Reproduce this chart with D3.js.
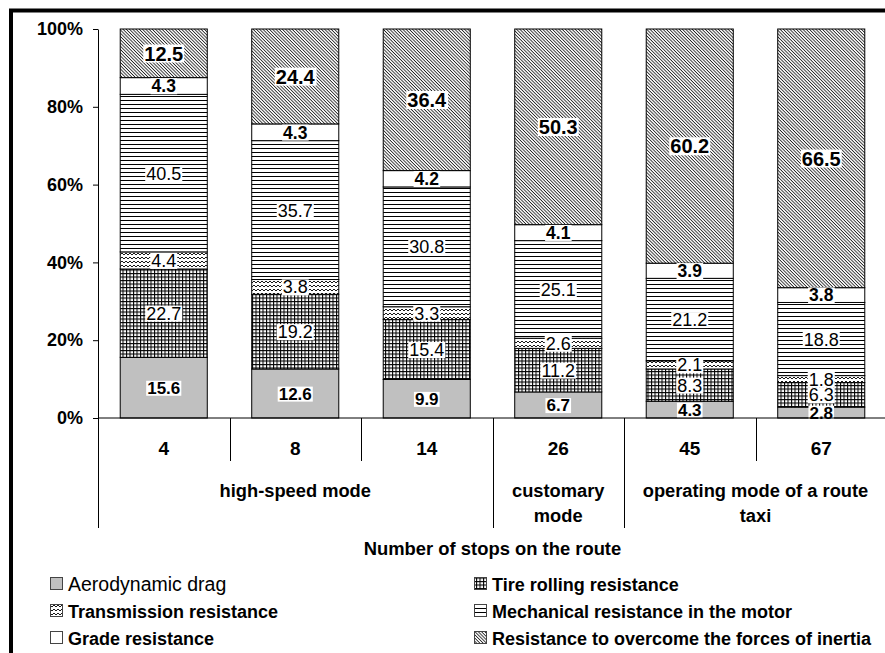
<!DOCTYPE html>
<html>
<head>
<meta charset="utf-8">
<script src="https://cdn.jsdelivr.net/npm/d3@7"></script>
<style>
  body { margin: 0; background: #fff; }
  svg { display: block; font-family: "Liberation Sans", Arial, sans-serif; }
</style>
</head>
<body>
<div id="vis"></div>
<script>
// data (percent shares of each resistance)
var stops = ["4", "8", "14", "26", "45", "67"];
var aerodynamic = [15.6, 12.6, 9.9, 6.7, 4.3, 2.8];
var tire = [22.7, 19.2, 15.4, 11.2, 8.3, 6.3];
var transmission = [4.4, 3.8, 3.3, 2.6, 2.1, 1.8];
var mechanical = [40.5, 35.7, 30.8, 25.1, 21.2, 18.8];
var grade = [4.3, 4.3, 4.2, 4.1, 3.9, 3.8];
var inertia = [12.5, 24.4, 36.4, 50.3, 60.2, 66.5];
var yTicks = [0, 20, 40, 60, 80, 100];
var modes = [
    { lines: ["high-speed mode"], first: 0, last: 2 },
    { lines: ["customary", "mode"], first: 3, last: 3 },
    { lines: ["operating mode of a route", "taxi"], first: 4, last: 5 }
];
var seriesNames = [
    "Aerodynamic drag", "Tire rolling resistance", "Transmission resistance",
    "Mechanical resistance in the motor", "Grade resistance",
    "Resistance to overcome the forces of inertia"
];
var seriesValues = [aerodynamic, tire, transmission, mechanical, grade, inertia];

var keys = ["aero", "tire", "trans", "mech", "grade", "inertia"];
var fills = ["#c0c0c0", "url(#pTire)", "url(#pTrans)", "url(#pMech)", "#fff", "url(#pInertia)"];
var labelStyle = [
    { size: 17, weight: "bold" },
    { size: 18, weight: "normal" },
    { size: 18, weight: "normal" },
    { size: 18, weight: "normal" },
    { size: 17.5, weight: "bold" },
    { size: 20, weight: "bold" }
];

var table = stops.map(function(s, i) {
    var row = { stop: s };
    keys.forEach(function(k, j) { row[k] = seriesValues[j][i]; });
    return row;
});

var W = 885, H = 653;
var plot = { left: 98, right: 887, top: 29, bottom: 418 };

var svg = d3.select('#vis')
    .append('svg')
    .attr('width', W)
    .attr('height', H);

// patterns
var defs = svg.append('defs');

var p = defs.append('pattern').attr('id', 'pTire')
    .attr('patternUnits', 'userSpaceOnUse').attr('width', 3.5).attr('height', 3.5);
p.append('rect').attr('width', 3.5).attr('height', 3.5).attr('fill', '#fff');
p.append('path').attr('d', 'M0,0.5 H3.5 M0.5,0 V3.5').attr('stroke', '#000').attr('stroke-width', 1.1);

p = defs.append('pattern').attr('id', 'pMech')
    .attr('patternUnits', 'userSpaceOnUse').attr('width', 4).attr('height', 4);
p.append('rect').attr('width', 4).attr('height', 4).attr('fill', '#fff');
p.append('rect').attr('y', 0).attr('width', 4).attr('height', 1).attr('fill', '#000');

p = defs.append('pattern').attr('id', 'pTrans')
    .attr('patternUnits', 'userSpaceOnUse').attr('width', 4).attr('height', 4);
p.append('rect').attr('width', 4).attr('height', 4).attr('fill', '#fff');
p.append('path').attr('d', 'M0,3 L2,1 L4,3').attr('fill', 'none')
    .attr('stroke', '#000').attr('stroke-width', 0.9);

p = defs.append('pattern').attr('id', 'pInertia')
    .attr('patternUnits', 'userSpaceOnUse').attr('width', 4).attr('height', 2.3)
    .attr('patternTransform', 'rotate(45)');
p.append('rect').attr('width', 4).attr('height', 2.3).attr('fill', '#fff');
p.append('rect').attr('width', 4).attr('height', 0.85).attr('fill', '#222');

// scales
var x_scale = d3.scaleBand()
    .domain(stops)
    .range([plot.left, plot.right])
    .paddingInner(0.338)
    .paddingOuter(0.169);

var y_scale = d3.scaleLinear()
    .domain([0, 100])
    .range([plot.bottom, plot.top]);

var stack = d3.stack().keys(keys);
var layers = stack(table);

// bars
var groups = svg.selectAll('.layer')
    .data(layers)
    .enter()
    .append('g')
    .attr('class', 'layer')
    .attr('fill', function(d, i) { return fills[i]; });

groups.selectAll('rect')
    .data(function(d) { return d; })
    .enter()
    .append('rect')
    .attr('x', function(d) { return x_scale(d.data.stop); })
    .attr('width', x_scale.bandwidth())
    .attr('y', function(d) { return y_scale(d[1]); })
    .attr('height', function(d) { return y_scale(d[0]) - y_scale(d[1]); })
    .attr('stroke', '#000')
    .attr('stroke-width', 1);

// bar labels with white boxes
layers.forEach(function(layer, i) {
    var st = labelStyle[i];
    layer.forEach(function(d) {
        var cx = x_scale(d.data.stop) + x_scale.bandwidth() / 2;
        var cy = (y_scale(d[0]) + y_scale(d[1])) / 2;
        var g = svg.append('g').attr('class', 'lbl');
        var box = g.append('rect').attr('fill', '#fff');
        var t = g.append('text')
            .attr('x', cx)
            .attr('y', cy)
            .attr('dy', '0.36em')
            .attr('text-anchor', 'middle')
            .attr('font-size', st.size)
            .attr('font-weight', st.weight)
            .text(d.data[keys[i]].toFixed(1));
        var bb = t.node().getBBox();
        box.attr('x', bb.x - 1).attr('y', bb.y + 2)
            .attr('width', bb.width + 2).attr('height', bb.height - 4);
    });
});

// y axis
var y_axis = d3.axisLeft(y_scale)
    .tickValues(yTicks)
    .tickFormat(function(d) { return d + '%'; })
    .tickSize(5)
    .tickSizeOuter(0)
    .tickPadding(10);

svg.append('g')
    .attr('class', 'y axis')
    .attr('transform', 'translate(' + plot.left + ',0)')
    .call(y_axis)
    .call(function(g) {
        g.selectAll('text').attr('font-size', 18).attr('font-weight', 'bold')
            .attr('font-family', '"Liberation Sans", Arial, sans-serif').attr('fill', '#000');
        g.selectAll('line, path').attr('stroke', '#000');
    });

// category axis: lines and labels
var step = x_scale.step();
var x0 = x_scale.range()[0];
var axisG = svg.append('g').attr('class', 'x axis');

axisG.append('line')
    .attr('x1', plot.left).attr('x2', plot.right)
    .attr('y1', plot.bottom).attr('y2', plot.bottom)
    .attr('stroke', '#000');

var modeEdges = [0];
modes.forEach(function(m) { modeEdges.push(m.last + 1); });

d3.range(stops.length + 1).forEach(function(i) {
    var isModeEdge = modeEdges.indexOf(i) >= 0;
    var xx = Math.round(x0 + i * step) + 0.5;
    axisG.append('line')
        .attr('x1', xx).attr('x2', xx)
        .attr('y1', plot.bottom).attr('y2', isModeEdge ? 528 : 461)
        .attr('stroke', '#000');
});

axisG.selectAll('.stop')
    .data(stops)
    .enter()
    .append('text')
    .attr('class', 'stop')
    .attr('x', function(d) { return x_scale(d) + x_scale.bandwidth() / 2; })
    .attr('y', 455)
    .attr('text-anchor', 'middle')
    .attr('font-size', 19)
    .attr('font-weight', 'bold')
    .text(function(d) { return d; });

modes.forEach(function(m) {
    var cx = x0 + (m.first + m.last + 1) / 2 * step;
    m.lines.forEach(function(line, j) {
        axisG.append('text')
            .attr('x', cx)
            .attr('y', 497 + j * 25)
            .attr('text-anchor', 'middle')
            .attr('font-size', 18.3)
            .attr('font-weight', 'bold')
            .text(line);
    });
});

svg.append('text')
    .attr('x', (plot.left + plot.right) / 2)
    .attr('y', 555)
    .attr('text-anchor', 'middle')
    .attr('font-size', 18.4)
    .attr('font-weight', 'bold')
    .text('Number of stops on the route');

// legend: left column series 0,2,4, right column 1,3,5
var legend = svg.append('g').attr('class', 'legend');
seriesNames.forEach(function(name, i) {
    var col = i % 2;
    var row = Math.floor(i / 2);
    var lx = col === 0 ? 50 : 474;
    var cy = 584 + row * 27;
    legend.append('rect')
        .attr('x', lx + 0.5).attr('y', cy - 6.5)
        .attr('width', 12).attr('height', 12)
        .attr('fill', fills[i])
        .attr('stroke', '#444');
    legend.append('text')
        .attr('x', lx + 18)
        .attr('y', cy + 6.5)
        .attr('font-size', i === 0 ? 19.5 : 18)
        .attr('font-weight', i === 0 ? 'normal' : 'bold')
        .text(name);
});

// outer frame
svg.append('rect')
    .attr('x', 11).attr('y', 10.5)
    .attr('width', 1000).attr('height', 1000)
    .attr('fill', 'none')
    .attr('stroke', '#000')
    .attr('stroke-width', 4);
</script>
</body>
</html>
